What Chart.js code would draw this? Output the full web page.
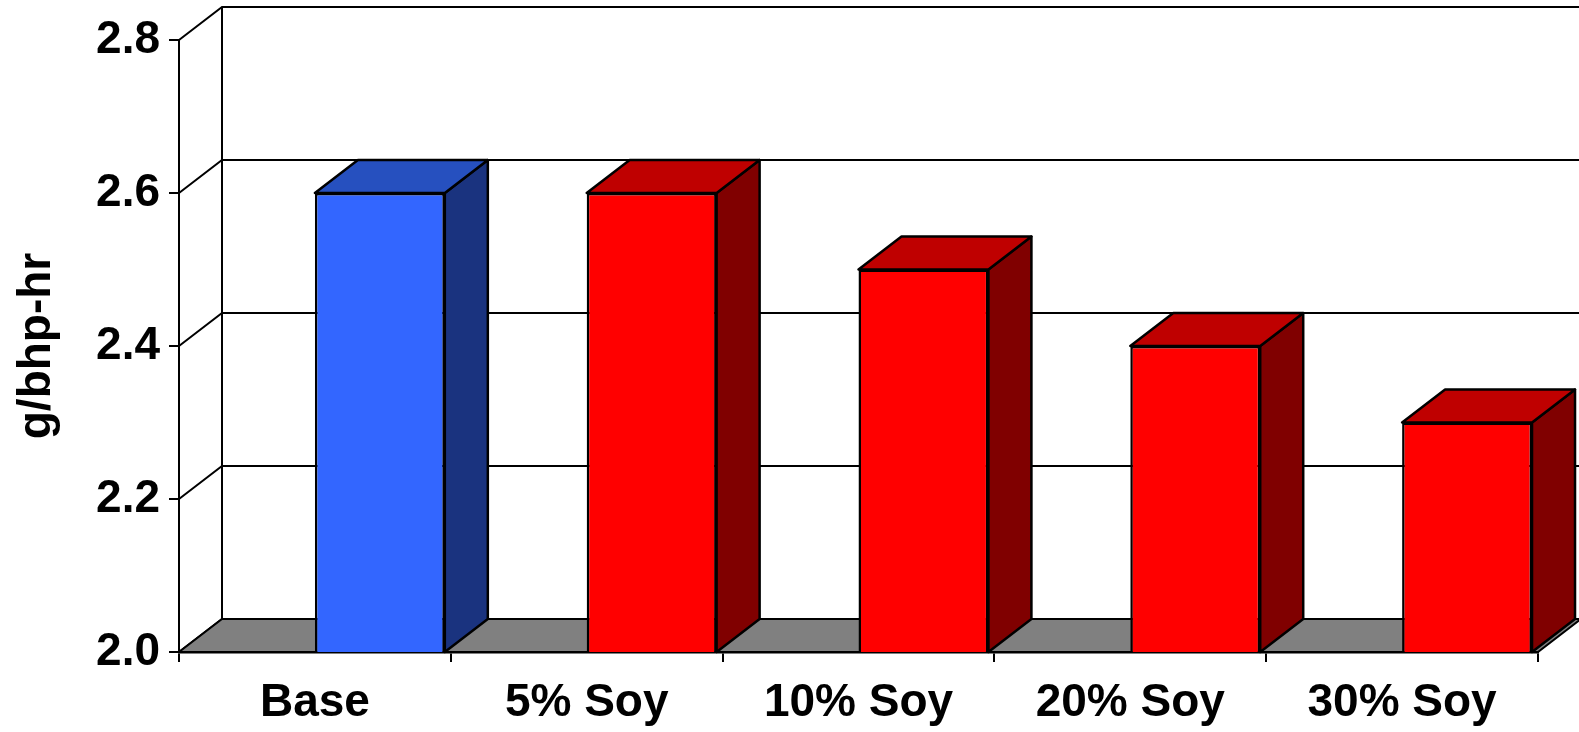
<!DOCTYPE html>
<html>
<head>
<meta charset="utf-8">
<title>g/bhp-hr</title>
<script src="https://cdn.jsdelivr.net/npm/chart.js@4.4.1/dist/chart.umd.min.js"></script>
<style>
    html, body { margin: 0; padding: 0; background: #ffffff; }
    #plotContainer { width: 1579px; height: 732px; }
</style>
</head>
<body>
<div id="plotContainer"><canvas id="emissionsPlot"></canvas></div>
<script>
const categories = ["Base", "5% Soy", "10% Soy", "20% Soy", "30% Soy"];
const emissions = [2.6, 2.6, 2.5, 2.4, 2.3];
const yTicks = [2.0, 2.2, 2.4, 2.6, 2.8];

const frontColors = ["#3366ff", "#ff0000", "#ff0000", "#ff0000", "#ff0000"];
const topColors = ["#2650bf", "#bf0000", "#bf0000", "#bf0000", "#bf0000"];
const sideColors = ["#1a337f", "#800000", "#800000", "#800000", "#800000"];

const depthX = 43;
const depthY = -33;
const labelFont = {family: "'Liberation Sans', Arial, sans-serif", size: 46, weight: "bold"};

function polygon(ctx, pts, fill) {
    ctx.beginPath();
    ctx.moveTo(pts[0][0], pts[0][1]);
    for (let i = 1; i < pts.length; i++) {
        ctx.lineTo(pts[i][0], pts[i][1]);
    }
    ctx.closePath();
    if (fill) {
        ctx.fillStyle = fill;
        ctx.fill();
    }
    ctx.stroke();
}

// back wall, left wall lines and the grey floor
const wallsPlugin = {
    id: "walls",
    beforeDraw: function (chart) {
        const ctx = chart.ctx;
        const area = chart.chartArea;
        const y = chart.scales.y;
        const farRight = chart.width + 10;
        ctx.save();
        ctx.strokeStyle = "#000000";
        ctx.lineWidth = 2;
        for (const v of yTicks) {
            const py = y.getPixelForValue(v);
            ctx.beginPath();
            ctx.moveTo(area.left, py);
            ctx.lineTo(area.left + depthX, py + depthY);
            ctx.lineTo(farRight, py + depthY);
            ctx.stroke();
        }
        ctx.beginPath();
        ctx.moveTo(area.left + depthX, area.top + depthY);
        ctx.lineTo(area.left + depthX, area.bottom + depthY);
        ctx.stroke();
        polygon(ctx, [
            [area.left, area.bottom],
            [area.right, area.bottom],
            [area.right + depthX, area.bottom + depthY],
            [farRight, area.bottom + depthY],
            [area.left + depthX, area.bottom + depthY]
        ], "#808080");
        ctx.restore();
    }
};

// top and side faces; the front face is drawn by Chart.js itself
const boxPlugin = {
    id: "boxes",
    beforeDatasetsDraw: function (chart) {
        const ctx = chart.ctx;
        const meta = chart.getDatasetMeta(0);
        const floor = chart.chartArea.bottom;
        ctx.save();
        ctx.translate(meta.data[0].width / 2, 0);
        ctx.strokeStyle = "#000000";
        ctx.lineWidth = 2.5;
        ctx.lineJoin = "round";
        meta.data.forEach(function (bar, i) {
            const l = bar.x - bar.width / 2;
            const r = bar.x + bar.width / 2;
            const t = bar.y;
            const b = Math.min(bar.base, floor);
            polygon(ctx, [[r, t], [r + depthX, t + depthY], [r + depthX, b + depthY], [r, b]], sideColors[i]);
            polygon(ctx, [[l, t], [r, t], [r + depthX, t + depthY], [l + depthX, t + depthY]], topColors[i]);
        });
    },
    afterDatasetsDraw: function (chart) {
        chart.ctx.restore();
    }
};

const ctx = document.getElementById("emissionsPlot").getContext("2d");
const myChart = new Chart(ctx, {
    type: "bar",
    data: {
        labels: categories,
        datasets: [{
            label: "g/bhp-hr",
            data: emissions,
            backgroundColor: frontColors,
            borderColor: "#000000",
            borderWidth: 2.5,
            borderSkipped: false,
            categoryPercentage: 1,
            barPercentage: 0.478
        }]
    },
    options: {
        responsive: true,
        maintainAspectRatio: false,
        devicePixelRatio: 1,
        animation: false,
        events: [],
        layout: {padding: {top: 40, right: 41, left: 0, bottom: 0}},
        plugins: {
            legend: {display: false},
            tooltip: {enabled: false}
        },
        scales: {
            x: {
                offset: true,
                grid: {display: true, drawOnChartArea: false, drawTicks: true, tickLength: 10, color: "#000000", lineWidth: 2},
                border: {display: true, color: "#000000", width: 2.5},
                ticks: {color: "#000000", font: labelFont, padding: 14, autoSkip: false, maxRotation: 0},
                afterFit: function (scale) { scale.height = 80; }
            },
            y: {
                min: 2.0,
                max: 2.8,
                grid: {display: true, drawOnChartArea: false, drawTicks: true, tickLength: 10, color: "#000000", lineWidth: 2},
                border: {display: true, color: "#000000", width: 2},
                ticks: {
                    stepSize: 0.2,
                    color: "#000000",
                    font: labelFont,
                    padding: 9,
                    callback: function (v) { return v.toFixed(1); }
                },
                title: {
                    display: true,
                    text: "g/bhp-hr",
                    color: "#000000",
                    font: labelFont,
                    padding: {top: 10, bottom: 0}
                },
                afterFit: function (scale) { scale.width = 179; }
            }
        }
    },
    plugins: [wallsPlugin, boxPlugin]
});
</script>
</body>
</html>
